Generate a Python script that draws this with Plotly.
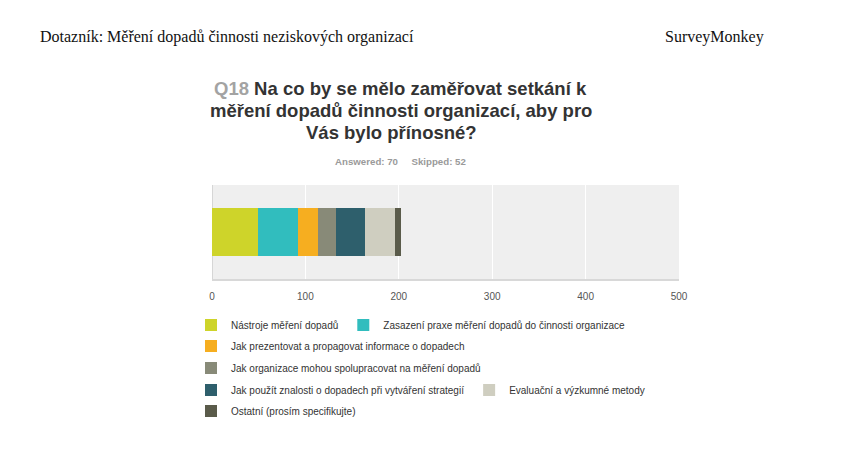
import plotly.graph_objects as go

# Q18 answer counts (stacked in one bar)
categories = [
    "Nástroje měření dopadů",
    "Zasazení praxe měření dopadů do činnosti organizace",
    "Jak prezentovat a propagovat informace o dopadech",
    "Jak organizace mohou spolupracovat na měření dopadů",
    "Jak použít znalosti o dopadech při vytváření strategií",
    "Evaluační a výzkumné metody",
    "Ostatní (prosím specifikujte)",
]
counts = [49, 43, 21, 20, 31, 32, 6]
colors = ["#CED42A", "#31BDBE", "#F6AE20", "#888A78", "#2E5F6C", "#CFCEC0", "#5A5B4A"]
legend_rows = ["legend", "legend", "legend2", "legend3", "legend4", "legend4", "legend5"]
x_ticks = [0, 100, 200, 300, 400, 500]

# page body has an 8px margin, so figure coords = page coords - 8
OFF = 8
W, H = 850, 470
L, T = 212 - OFF, 185 - OFF
R = W - (679 - OFF)
B = H - (279 - OFF)
pw, ph = W - L - R, H - T - B


def px_x(p):
    return (p - OFF - L) / pw


def px_y(p):
    return (H - B - (p - OFF)) / ph


fig = go.Figure()
for name, val, col, lg in zip(categories, counts, colors, legend_rows):
    fig.add_trace(go.Bar(
        x=[val], y=["Q18"], orientation="h", name=name,
        marker=dict(color=col, line=dict(width=0)),
        legend=lg, hoverinfo="x+name",
    ))

legend_font = dict(family="Liberation Sans, Arial, sans-serif", size=10, color="#333333")
row_y = [325, 346, 368, 390, 411]
legend_keys = ["legend", "legend", "legend2", "legend3", "legend4", "legend5"][1:]
legend_keys = ["legend", "legend2", "legend3", "legend4", "legend5"]
legends = {}
for key, yy in zip(legend_keys, row_y):
    legends[key] = dict(
        orientation="h", traceorder="normal", itemwidth=30,
        x=px_x(191), xanchor="left", y=px_y(yy), yanchor="middle",
        font=legend_font, bgcolor="rgba(0,0,0,0)", itemclick=False, itemdoubleclick=False,
    )

fig.update_layout(
    width=W, height=H,
    margin=dict(l=L, r=R, t=T, b=B),
    barmode="stack", bargap=0.49,
    paper_bgcolor="white", plot_bgcolor="#EFEFEF",
    showlegend=True,
    **legends,
    xaxis=dict(
        range=[0, 500], tickvals=x_ticks, showgrid=True, gridcolor="white", gridwidth=1,
        zeroline=True, zerolinecolor="#D6D6D6", zerolinewidth=1,
        showline=True, linecolor="#D8D8D8", linewidth=2,
        ticks="outside", ticklen=7, tickcolor="rgba(0,0,0,0)",
        tickfont=dict(family="Liberation Sans, Arial, sans-serif", size=10, color="#555555"),
        fixedrange=True,
    ),
    yaxis=dict(showticklabels=False, showgrid=False, zeroline=False, fixedrange=True),
)

serif = dict(family="Liberation Serif, Times New Roman, serif", size=16, color="#111111")
title_font = dict(family="Liberation Sans, Arial, sans-serif", size=18.5, color="#333333", weight="bold")
annotations = [
    dict(text="Dotazník: Měření dopadů činnosti neziskových organizací",
         x=px_x(38), y=px_y(37), xanchor="left", yanchor="middle", font=serif),
    dict(text="SurveyMonkey",
         x=px_x(766), y=px_y(37), xanchor="right", yanchor="middle", font=serif),
    dict(text="<span style='color:#A3A3A3'>Q18</span> Na co by se mělo zaměřovat setkání k",
         x=px_x(400), y=px_y(88), xanchor="center", yanchor="middle", font=title_font),
    dict(text="měření dopadů činnosti organizací, aby pro",
         x=px_x(400.5), y=px_y(110), xanchor="center", yanchor="middle", font=title_font),
    dict(text="Vás bylo přínosné?",
         x=px_x(391), y=px_y(132), xanchor="center", yanchor="middle", font=title_font),
    dict(text="Answered: 70\u00a0\u00a0\u00a0\u00a0 Skipped: 52",
         x=px_x(400), y=px_y(161), xanchor="center", yanchor="middle",
         font=dict(family="Liberation Sans, Arial, sans-serif", size=9.7, color="#9A9A9A", weight="bold")),
]
for a in annotations:
    a.update(xref="paper", yref="paper", showarrow=False)
fig.update_layout(annotations=annotations)

fig.write_html("out.html")
